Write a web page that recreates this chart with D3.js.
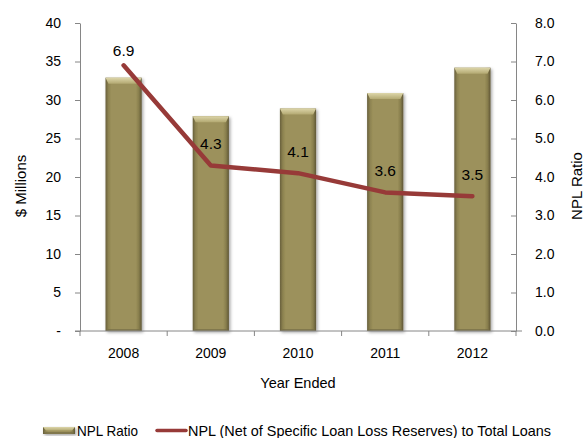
<!DOCTYPE html>
<html>
<head>
<meta charset="utf-8">
<script src="https://cdn.jsdelivr.net/npm/d3@7/dist/d3.min.js"></script>
<style>
  html, body { margin: 0; padding: 0; background: #fff; }
  svg text { font-family: "Liberation Sans", Arial, sans-serif; fill: #000; }
</style>
</head>
<body>
<svg id="chart" width="583" height="438"></svg>
<script>
// Year-end figures
const years = ["2008", "2009", "2010", "2011", "2012"];
const nplAmount = [32.9, 27.9, 28.9, 30.9, 34.2];      // $ Millions (bars, left axis)
const nplNetRatio = [6.9, 4.3, 4.1, 3.6, 3.5];         // % (line, right axis)
const leftTicks = [0, 5, 10, 15, 20, 25, 30, 35, 40];
const rightTicks = [0, 1, 2, 3, 4, 5, 6, 7, 8];
const barSeriesName = "NPL Ratio";
const lineSeriesName = "NPL (Net of Specific Loan Loss Reserves) to Total Loans";

const svg = d3.select("#chart");
const plot = { left: 80, right: 516, top: 23, bottom: 331 };
const axisColor = "#868686";
const barColor = "#9c915b";
const lineColor = "#973a38";

const x = d3.scaleBand().domain(years)
  .range([plot.left, plot.right])
  .paddingInner(0.585).paddingOuter(0.2925);
const yLeft = d3.scaleLinear().domain([0, 40]).range([plot.bottom, plot.top]);
const yRight = d3.scaleLinear().domain([0, 8]).range([plot.bottom, plot.top]);

// gradients for the bevelled bars
const defs = svg.append("defs");
const sideGrad = defs.append("linearGradient").attr("id", "barSide").attr("x1", 0).attr("x2", 1).attr("y1", 0).attr("y2", 0);
[[0, "#675f3b"], [0.08, "#8c8250"], [0.16, barColor], [0.84, barColor], [0.92, "#887e4d"], [1, "#5e5635"]]
  .forEach(([o, c]) => sideGrad.append("stop").attr("offset", o).attr("stop-color", c));
const topGrad = defs.append("linearGradient").attr("id", "barTop").attr("x1", 0).attr("x2", 0).attr("y1", 0).attr("y2", 1);
[[0, "#ddd6aa"], [1, "#b3a972"]].forEach(([o, c]) => topGrad.append("stop").attr("offset", o).attr("stop-color", c));
const shadow = defs.append("filter").attr("id", "barShadow").attr("x", "-20%").attr("y", "-10%").attr("width", "150%").attr("height", "130%");
shadow.append("feDropShadow").attr("dx", 1.5).attr("dy", 1.5).attr("stdDeviation", 1.5)
  .attr("flood-color", "#000").attr("flood-opacity", 0.35);

function bevelBar(g, x0, y0, w, h) {
  const b = Math.min(6, h / 2);
  g.append("rect").attr("x", x0).attr("y", y0).attr("width", w).attr("height", h)
    .attr("fill", "url(#barSide)").attr("filter", "url(#barShadow)");
  g.append("path")
    .attr("d", `M${x0},${y0}H${x0 + w}L${x0 + w - 3},${y0 + b}H${x0 + 3}Z`)
    .attr("fill", "url(#barTop)");
  g.append("path")
    .attr("d", `M${x0},${y0 + h}H${x0 + w}L${x0 + w - 3},${y0 + h - 2}H${x0 + 3}Z`)
    .attr("fill", "#6f6742").attr("opacity", 0.6);
}

// bars
const bars = svg.append("g");
years.forEach((yr, i) => {
  const g = bars.append("g");
  bevelBar(g, x(yr), yLeft(nplAmount[i]), x.bandwidth(), yLeft(0) - yLeft(nplAmount[i]));
});

// left axis
const fmtLeft = d => d === 0 ? "-" : d3.format("d")(d);
const gl = svg.append("g").attr("transform", `translate(${plot.left},0)`)
  .call(d3.axisLeft(yLeft).tickValues(leftTicks).tickFormat(fmtLeft).tickSize(5).tickSizeOuter(0).tickPadding(14));
gl.select(".domain").attr("stroke", axisColor);
gl.selectAll(".tick line").attr("stroke", axisColor);
gl.selectAll(".tick text").style("font-size", "14px");

// right axis, ticks pointing into the plot
const gr = svg.append("g").attr("transform", `translate(${plot.right},0)`)
  .call(d3.axisRight(yRight).tickValues(rightTicks).tickFormat(d3.format(".1f")).tickSize(0).tickSizeOuter(0).tickPadding(19));
gr.select(".domain").attr("stroke", axisColor);
gr.selectAll(".tick line").attr("x1", -5).attr("x2", 0).attr("stroke", axisColor);
gr.selectAll(".tick text").style("font-size", "14px");

// category axis
const gx = svg.append("g").attr("transform", `translate(0,${plot.bottom})`)
  .call(d3.axisBottom(x).tickSize(0).tickSizeOuter(0).tickPadding(17));
gx.select(".domain").remove();
gx.selectAll(".tick text").style("font-size", "14px");
gx.append("line").attr("x1", plot.left - 5).attr("x2", plot.right + 6)
  .attr("stroke", axisColor);
const step = x.step();
const bounds = years.map(yr => x(yr) + x.bandwidth() / 2 - step / 2).concat([x(years[years.length - 1]) + x.bandwidth() / 2 + step / 2]);
gx.selectAll(".bound").data(bounds).join("line")
  .attr("x1", d => d).attr("x2", d => d).attr("y1", 0).attr("y2", 5)
  .attr("stroke", axisColor);

// line series
const cx = yr => x(yr) + x.bandwidth() / 2;
svg.append("path")
  .datum(years.map((yr, i) => [cx(yr), yRight(nplNetRatio[i])]))
  .attr("d", d3.line())
  .attr("fill", "none").attr("stroke", lineColor).attr("stroke-width", 4.5)
  .attr("stroke-linecap", "round").attr("stroke-linejoin", "round");

// value labels above the line points
const labelLift = [15, 22, 22, 22, 22];
svg.append("g").selectAll("text").data(years).join("text")
  .attr("x", d => cx(d))
  .attr("y", (d, i) => yRight(nplNetRatio[i]) - labelLift[i])
  .attr("text-anchor", "middle").attr("dominant-baseline", "central")
  .style("font-size", "15.5px")
  .text((d, i) => d3.format(".1f")(nplNetRatio[i]));

// axis titles
svg.append("text").attr("transform", "translate(20,186) rotate(-90)")
  .attr("text-anchor", "middle").attr("dominant-baseline", "central")
  .style("font-size", "15px").text("$ Millions");
svg.append("text").attr("transform", "translate(576,186) rotate(-90)")
  .attr("text-anchor", "middle").attr("dominant-baseline", "central")
  .style("font-size", "15px").text("NPL Ratio");
svg.append("text").attr("x", (plot.left + plot.right) / 2).attr("y", 383)
  .attr("text-anchor", "middle").attr("dominant-baseline", "central")
  .style("font-size", "14.5px").text("Year Ended");

// legend
const lg = svg.append("g");
bevelBar(lg.append("g"), 43, 427, 32, 7);
lg.append("text").attr("x", 77).attr("y", 431).attr("dominant-baseline", "central")
  .style("font-size", "14.5px").attr("textLength", 61).attr("lengthAdjust", "spacingAndGlyphs")
  .text(barSeriesName);
lg.append("line").attr("x1", 157).attr("x2", 186).attr("y1", 430.5).attr("y2", 430.5)
  .attr("stroke", lineColor).attr("stroke-width", 3.5).attr("stroke-linecap", "round");
lg.append("text").attr("x", 188).attr("y", 431).attr("dominant-baseline", "central")
  .style("font-size", "14.5px").attr("textLength", 363).attr("lengthAdjust", "spacingAndGlyphs")
  .text(lineSeriesName);
</script>
</body>
</html>
